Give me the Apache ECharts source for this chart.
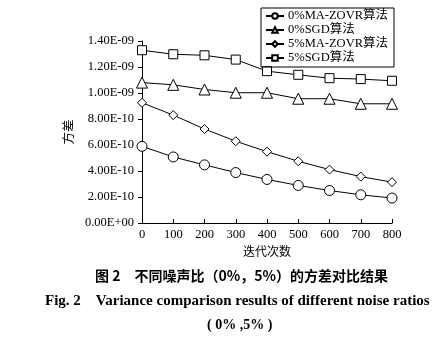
<!DOCTYPE html>
<html>
<head>
<meta charset="utf-8">
<script src="https://cdn.jsdelivr.net/npm/echarts@6/dist/echarts.min.js"></script>
<style>
html,body{margin:0;padding:0;background:#fff;}
#chart{width:436px;height:337px;}
</style>
</head>
<body>
<div id="chart"></div>
<script>
// Iteration counts (x axis)
const iterations = [0, 100, 200, 300, 400, 500, 600, 700, 800];
// Variance per iteration count for each method / noise ratio
const maZovr0 = [5.90e-10, 5.08e-10, 4.47e-10, 3.88e-10, 3.35e-10, 2.89e-10, 2.50e-10, 2.17e-10, 1.92e-10];
const sgd0    = [1.08e-9, 1.063e-9, 1.027e-9, 1.002e-9, 1.002e-9, 0.956e-9, 0.956e-9, 0.917e-9, 0.917e-9];
const maZovr5 = [9.25e-10, 8.30e-10, 7.23e-10, 6.29e-10, 5.49e-10, 4.75e-10, 4.11e-10, 3.57e-10, 3.14e-10];
const sgd5    = [1.329e-9, 1.298e-9, 1.290e-9, 1.257e-9, 1.168e-9, 1.140e-9, 1.114e-9, 1.107e-9, 1.094e-9];
const seriesNames = ['0%MA-ZOVR算法', '0%SGD算法', '5%MA-ZOVR算法', '5%SGD算法'];
const yTicks = { min: 0, max: 1.4e-9, step: 2e-10 };

const serif = '"Liberation Serif", "Times New Roman", "Noto Sans CJK SC", serif';

function sciLabel(v) {
  const s = Number(v).toExponential(2);
  const parts = s.split('e');
  const exp = parseInt(parts[1], 10);
  const sign = exp < 0 ? '-' : '+';
  const d = Math.abs(exp);
  return parts[0] + 'E' + sign + (d < 10 ? '0' : '') + d;
}

function mkSeries(name, values, symbol, size) {
  return {
    name: name,
    type: 'line',
    data: iterations.map((x, i) => [x, values[i]]),
    symbol: symbol,
    symbolSize: size,
    showAllSymbol: true,
    lineStyle: { color: '#000', width: 1 },
    itemStyle: { color: '#fff', borderColor: '#000', borderWidth: 1 },
    emphasis: { disabled: true },
    z: 3
  };
}

const chart = echarts.init(document.getElementById('chart'));
chart.setOption({
  animation: false,
  backgroundColor: '#fff',
  grid: { left: 142, right: 44, top: 41, bottom: 114 },
  legend: {
    orient: 'vertical',
    left: 261, top: 8,
    itemWidth: 18, itemHeight: 7,
    itemGap: 0,
    padding: [1, 6, 2, 4],
    borderColor: '#000', borderWidth: 1,
    textStyle: { fontFamily: serif, fontSize: 12.5, lineHeight: 14, color: '#000', padding: [0, 0, 0, -1] },
    data: seriesNames
  },
  title: [
    { text: '图 2　不同噪声比（0%，5%）的方差对比结果', left: 90, top: 264,
      textStyle: { fontFamily: '"Noto Sans CJK SC", sans-serif', fontSize: 14, fontWeight: 'bold', color: '#000' } },
    { text: 'Fig. 2    Variance comparison results of different noise ratios', left: 40, top: 289,
      textStyle: { fontFamily: serif, fontSize: 15, fontWeight: 'bold', color: '#000' } },
    { text: '( 0% ,5% )', left: 202, top: 313,
      textStyle: { fontFamily: serif, fontSize: 14, fontWeight: 'bold', color: '#000' } }
  ],
  xAxis: {
    type: 'value',
    min: 0, max: 800, interval: 100,
    name: '迭代次数', nameLocation: 'middle', nameGap: 21,
    nameTextStyle: { fontFamily: '"Noto Sans CJK SC", sans-serif', fontSize: 12, color: '#000' },
    axisLine: { lineStyle: { color: '#000', width: 1 } },
    axisTick: { inside: true, length: 4, lineStyle: { color: '#000' } },
    axisLabel: { fontFamily: serif, fontSize: 12.5, color: '#000', margin: 5 },
    splitLine: { show: false }
  },
  yAxis: {
    type: 'value',
    min: yTicks.min, max: yTicks.max, interval: yTicks.step,
    name: '方差', nameLocation: 'middle', nameGap: 66,
    nameTextStyle: { fontFamily: '"Noto Sans CJK SC", sans-serif', fontSize: 12.5, color: '#000' },
    axisLine: { show: true, lineStyle: { color: '#000', width: 1 } },
    axisTick: { show: true, length: 4, lineStyle: { color: '#000' } },
    axisLabel: { fontFamily: serif, fontSize: 12.5, color: '#000', margin: 8, formatter: sciLabel },
    splitLine: { show: false }
  },
  series: [
    mkSeries(seriesNames[0], maZovr0, 'circle', 10),
    mkSeries(seriesNames[1], sgd0, 'triangle', 11),
    mkSeries(seriesNames[2], maZovr5, 'diamond', 9),
    mkSeries(seriesNames[3], sgd5, 'rect', 9)
  ]
});
</script>
</body>
</html>
